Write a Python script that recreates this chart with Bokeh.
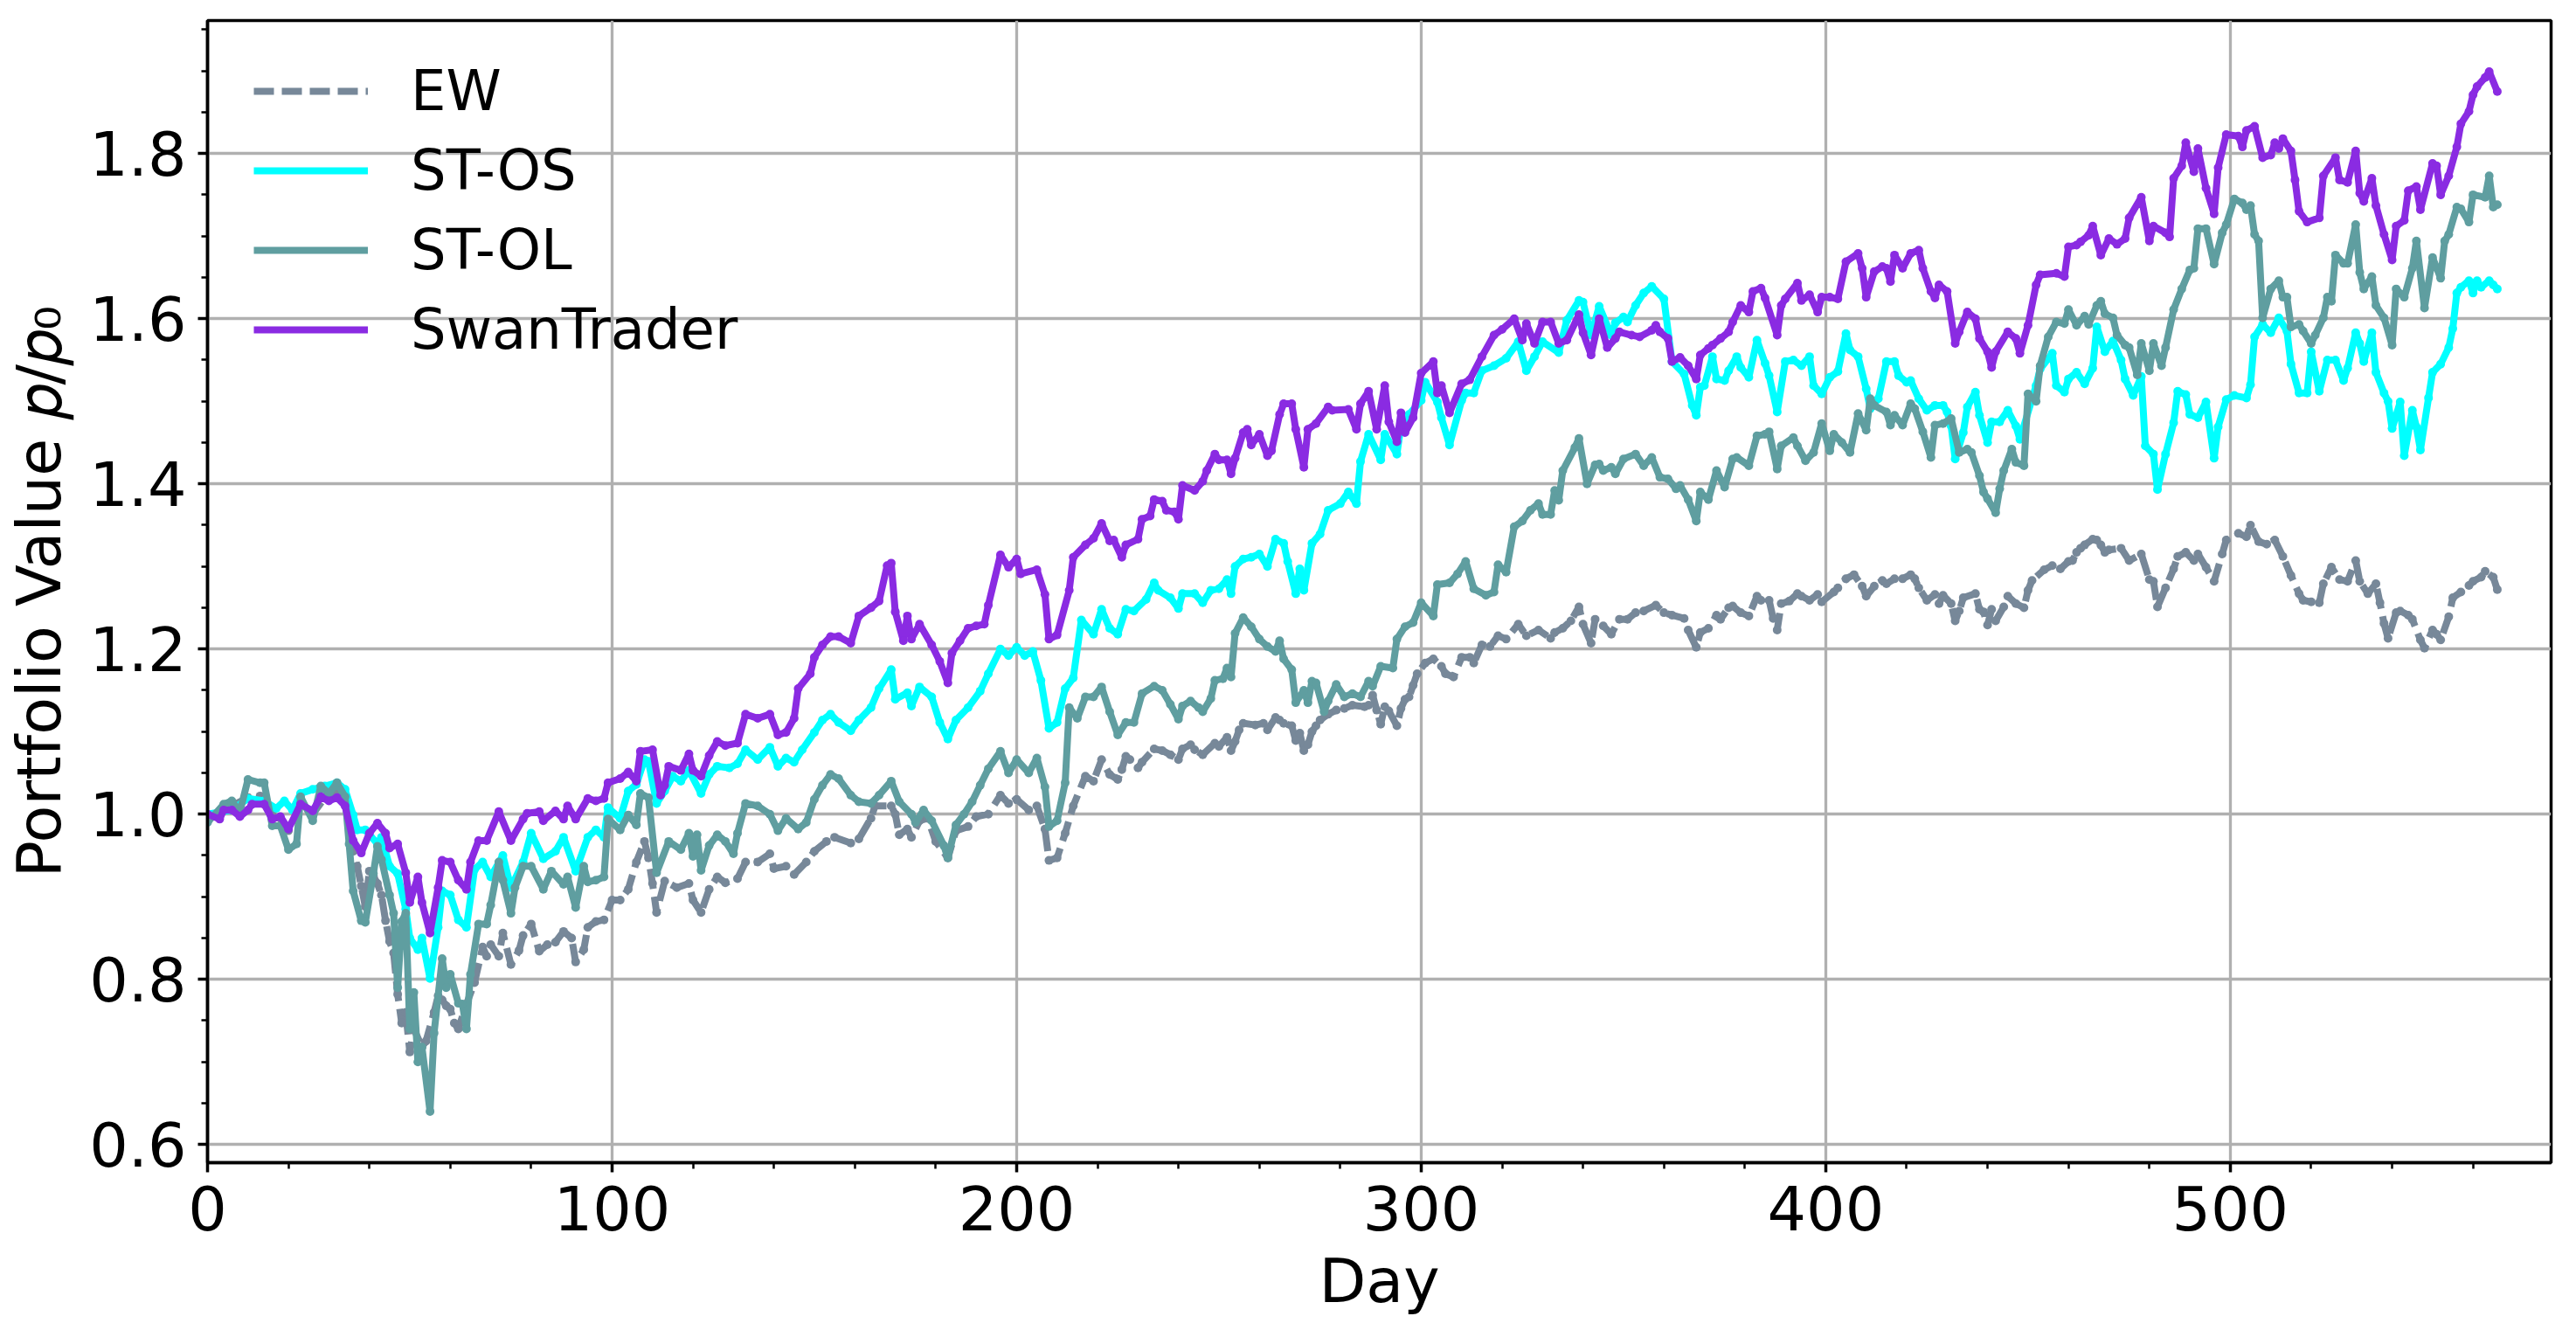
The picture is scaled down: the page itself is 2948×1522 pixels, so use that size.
from bokeh.plotting import figure
from bokeh.models import Range1d, FixedTicker, Legend, LegendItem, PrintfTickFormatter
from bokeh.embed import file_html
from bokeh.resources import INLINE

# ---------------- data ----------------
swan_day = [0, 3, 4, 6, 8, 10, 11, 14, 16, 18, 20, 23, 26, 28, 30, 32, 34, 36, 38, 40, 42, 44, 45, 47, 49, 50, 52, 53, 55, 57, 58, 60, 62, 64, 65, 67, 69, 72, 75, 78, 79, 82, 83, 86, 88, 89, 91, 94, 96, 98, 99, 102, 104, 106, 107, 110, 112, 113, 114, 117, 119, 120, 122, 124, 126, 128, 131, 133, 136, 139, 141, 143, 145, 146, 149, 150, 152, 154, 156, 159, 161, 164, 166, 168, 169, 170, 172, 173, 174, 176, 179, 181, 183, 184, 186, 188, 190, 192, 193, 196, 198, 200, 201, 205, 207, 208, 210, 213, 214, 217, 219, 221, 223, 224, 226, 227, 230, 231, 233, 234, 236, 237, 239, 240, 241, 244, 246, 247, 249, 250, 252, 253, 254, 256, 257, 258, 260, 262, 263, 265, 266, 268, 269, 271, 272, 274, 277, 278, 282, 284, 285, 287, 289, 291, 292, 294, 295, 296, 298, 300, 303, 304, 305, 307, 310, 312, 315, 318, 320, 323, 325, 326, 328, 330, 332, 334, 336, 339, 340, 342, 344, 346, 348, 349, 352, 354, 357, 358, 359, 361, 362, 364, 366, 368, 369, 371, 372, 374, 376, 377, 379, 381, 382, 384, 385, 388, 389, 390, 393, 394, 396, 398, 399, 401, 403, 405, 408, 409, 410, 412, 414, 415, 416, 417, 419, 421, 423, 424, 426, 427, 428, 430, 432, 433, 435, 437, 438, 440, 441, 442, 445, 447, 448, 450, 452, 453, 457, 459, 460, 462, 463, 465, 466, 468, 470, 472, 474, 475, 478, 480, 481, 484, 485, 486, 488, 489, 491, 492, 494, 496, 497, 499, 502, 503, 504, 506, 508, 510, 511, 512, 513, 515, 516, 517, 519, 522, 523, 526, 527, 529, 531, 532, 533, 535, 536, 538, 540, 541, 543, 544, 546, 547, 550, 551, 552, 554, 556, 557, 559, 560, 561, 563, 564, 566]
swan_val = [1.000, 0.994, 1.005, 1.005, 0.997, 1.005, 1.012, 1.012, 0.994, 0.997, 0.982, 1.012, 1.004, 1.021, 1.016, 1.020, 1.010, 0.968, 0.953, 0.977, 0.989, 0.977, 0.959, 0.964, 0.929, 0.893, 0.924, 0.893, 0.856, 0.911, 0.944, 0.942, 0.920, 0.909, 0.942, 0.968, 0.968, 1.003, 0.968, 0.994, 1.001, 1.003, 0.992, 1.004, 0.994, 1.010, 0.994, 1.019, 1.016, 1.019, 1.038, 1.043, 1.051, 1.040, 1.076, 1.078, 1.023, 1.035, 1.058, 1.053, 1.073, 1.053, 1.046, 1.071, 1.088, 1.083, 1.086, 1.121, 1.116, 1.121, 1.096, 1.099, 1.116, 1.152, 1.170, 1.190, 1.205, 1.215, 1.215, 1.207, 1.240, 1.250, 1.258, 1.301, 1.304, 1.245, 1.210, 1.240, 1.212, 1.230, 1.205, 1.185, 1.159, 1.195, 1.210, 1.225, 1.228, 1.230, 1.253, 1.314, 1.299, 1.309, 1.291, 1.296, 1.266, 1.212, 1.217, 1.271, 1.311, 1.326, 1.334, 1.352, 1.331, 1.332, 1.311, 1.326, 1.333, 1.357, 1.361, 1.381, 1.379, 1.368, 1.366, 1.357, 1.398, 1.392, 1.403, 1.416, 1.436, 1.429, 1.429, 1.412, 1.431, 1.462, 1.466, 1.447, 1.460, 1.434, 1.440, 1.484, 1.497, 1.497, 1.466, 1.420, 1.466, 1.473, 1.493, 1.489, 1.490, 1.466, 1.497, 1.512, 1.466, 1.519, 1.475, 1.451, 1.486, 1.462, 1.480, 1.534, 1.548, 1.510, 1.519, 1.486, 1.521, 1.526, 1.554, 1.580, 1.587, 1.600, 1.574, 1.594, 1.570, 1.596, 1.596, 1.570, 1.574, 1.605, 1.583, 1.556, 1.600, 1.565, 1.576, 1.584, 1.580, 1.578, 1.586, 1.592, 1.584, 1.576, 1.548, 1.553, 1.543, 1.527, 1.556, 1.564, 1.568, 1.576, 1.584, 1.596, 1.616, 1.608, 1.633, 1.637, 1.625, 1.580, 1.616, 1.624, 1.643, 1.622, 1.629, 1.608, 1.626, 1.626, 1.624, 1.669, 1.679, 1.661, 1.626, 1.657, 1.663, 1.661, 1.645, 1.677, 1.661, 1.679, 1.683, 1.661, 1.633, 1.625, 1.641, 1.633, 1.570, 1.584, 1.608, 1.600, 1.576, 1.560, 1.541, 1.560, 1.584, 1.576, 1.558, 1.592, 1.641, 1.653, 1.655, 1.651, 1.687, 1.689, 1.693, 1.701, 1.712, 1.677, 1.697, 1.690, 1.697, 1.722, 1.747, 1.694, 1.712, 1.704, 1.699, 1.770, 1.785, 1.813, 1.778, 1.806, 1.758, 1.727, 1.783, 1.823, 1.821, 1.808, 1.828, 1.833, 1.795, 1.798, 1.813, 1.806, 1.818, 1.803, 1.768, 1.730, 1.717, 1.722, 1.773, 1.795, 1.768, 1.765, 1.803, 1.752, 1.742, 1.770, 1.737, 1.702, 1.671, 1.712, 1.719, 1.755, 1.760, 1.732, 1.788, 1.785, 1.750, 1.773, 1.808, 1.836, 1.851, 1.871, 1.881, 1.892, 1.899, 1.875]

stos_day = [0, 6, 10, 14, 17, 19, 21, 23, 26, 29, 32, 34, 36, 37, 39, 42, 43, 45, 47, 49, 50, 52, 53, 55, 57, 58, 60, 62, 64, 66, 68, 70, 73, 75, 78, 80, 83, 86, 88, 91, 94, 96, 98, 99, 102, 104, 106, 108, 109, 111, 113, 115, 117, 119, 122, 124, 126, 129, 131, 133, 136, 139, 141, 143, 145, 147, 150, 152, 154, 156, 159, 161, 164, 166, 169, 170, 173, 174, 176, 179, 181, 183, 185, 188, 191, 193, 196, 198, 200, 202, 204, 206, 208, 210, 212, 214, 216, 219, 221, 223, 225, 227, 229, 232, 234, 235, 238, 240, 241, 244, 246, 248, 250, 252, 253, 254, 256, 258, 260, 262, 264, 266, 267, 269, 270, 271, 273, 275, 277, 280, 282, 284, 285, 287, 290, 291, 294, 295, 297, 300, 301, 304, 305, 307, 310, 311, 313, 315, 318, 321, 324, 326, 328, 330, 334, 336, 339, 340, 342, 344, 347, 348, 350, 351, 353, 355, 357, 360, 362, 365, 367, 368, 369, 370, 372, 373, 375, 376, 378, 379, 381, 383, 385, 386, 388, 390, 392, 394, 396, 397, 399, 401, 403, 405, 406, 408, 410, 411, 413, 415, 417, 418, 420, 421, 423, 425, 427, 429, 430, 431, 432, 434, 435, 437, 438, 440, 441, 443, 445, 447, 448, 452, 453, 456, 457, 459, 460, 462, 464, 466, 467, 469, 471, 473, 474, 476, 478, 479, 481, 482, 484, 486, 487, 489, 490, 492, 494, 496, 497, 499, 501, 504, 505, 506, 508, 510, 512, 514, 515, 517, 519, 520, 522, 524, 526, 528, 529, 531, 532, 533, 535, 536, 538, 539, 540, 542, 543, 545, 546, 547, 549, 550, 552, 554, 555, 556, 557, 559, 560, 561, 562, 564, 565, 566]
stos_val = [1.000, 1.005, 1.019, 1.016, 1.007, 1.016, 1.005, 1.025, 1.030, 1.034, 1.038, 1.030, 0.999, 0.981, 0.981, 0.964, 0.972, 0.937, 0.928, 0.885, 0.850, 0.836, 0.850, 0.801, 0.863, 0.907, 0.902, 0.872, 0.863, 0.933, 0.942, 0.924, 0.950, 0.911, 0.942, 0.977, 0.946, 0.955, 0.972, 0.931, 0.972, 0.981, 0.972, 1.008, 0.995, 1.028, 1.036, 1.066, 1.064, 1.013, 1.028, 1.046, 1.040, 1.053, 1.025, 1.048, 1.058, 1.056, 1.061, 1.078, 1.066, 1.081, 1.058, 1.068, 1.063, 1.078, 1.099, 1.114, 1.121, 1.111, 1.101, 1.114, 1.129, 1.152, 1.175, 1.139, 1.147, 1.131, 1.154, 1.142, 1.111, 1.091, 1.114, 1.129, 1.149, 1.170, 1.200, 1.192, 1.202, 1.192, 1.197, 1.162, 1.104, 1.111, 1.152, 1.165, 1.235, 1.218, 1.248, 1.225, 1.218, 1.248, 1.246, 1.260, 1.280, 1.271, 1.262, 1.249, 1.267, 1.267, 1.256, 1.271, 1.273, 1.284, 1.267, 1.300, 1.309, 1.311, 1.315, 1.300, 1.333, 1.328, 1.306, 1.267, 1.297, 1.271, 1.328, 1.339, 1.368, 1.376, 1.390, 1.376, 1.427, 1.460, 1.429, 1.460, 1.436, 1.471, 1.484, 1.501, 1.523, 1.499, 1.480, 1.447, 1.501, 1.510, 1.510, 1.537, 1.543, 1.552, 1.572, 1.537, 1.554, 1.572, 1.559, 1.598, 1.622, 1.620, 1.580, 1.615, 1.580, 1.595, 1.602, 1.596, 1.616, 1.631, 1.639, 1.624, 1.548, 1.533, 1.495, 1.483, 1.517, 1.519, 1.554, 1.527, 1.525, 1.537, 1.554, 1.541, 1.529, 1.574, 1.546, 1.531, 1.487, 1.548, 1.550, 1.543, 1.554, 1.519, 1.509, 1.529, 1.536, 1.582, 1.562, 1.554, 1.515, 1.491, 1.503, 1.548, 1.548, 1.531, 1.523, 1.525, 1.503, 1.489, 1.495, 1.495, 1.487, 1.470, 1.430, 1.462, 1.493, 1.511, 1.483, 1.450, 1.475, 1.475, 1.489, 1.470, 1.454, 1.519, 1.539, 1.558, 1.519, 1.511, 1.527, 1.535, 1.521, 1.540, 1.590, 1.560, 1.573, 1.550, 1.527, 1.507, 1.530, 1.446, 1.436, 1.393, 1.436, 1.474, 1.512, 1.508, 1.484, 1.480, 1.499, 1.431, 1.469, 1.502, 1.507, 1.504, 1.520, 1.578, 1.593, 1.583, 1.601, 1.585, 1.545, 1.510, 1.510, 1.560, 1.512, 1.550, 1.550, 1.525, 1.540, 1.583, 1.570, 1.548, 1.583, 1.535, 1.510, 1.500, 1.467, 1.499, 1.434, 1.489, 1.469, 1.441, 1.504, 1.535, 1.545, 1.565, 1.588, 1.631, 1.638, 1.646, 1.631, 1.646, 1.638, 1.646, 1.641, 1.636]

stol_day = [0, 4, 6, 8, 10, 13, 14, 16, 18, 20, 22, 23, 26, 28, 30, 32, 34, 35, 36, 38, 39, 41, 42, 43, 45, 46, 47, 48, 49, 50, 51, 52, 53, 55, 56, 58, 59, 60, 62, 63, 64, 65, 67, 69, 70, 72, 73, 75, 76, 78, 80, 83, 85, 88, 89, 91, 93, 94, 96, 98, 99, 102, 104, 106, 107, 109, 111, 114, 117, 119, 120, 121, 122, 124, 126, 128, 130, 131, 133, 136, 139, 141, 143, 146, 148, 150, 152, 154, 156, 159, 161, 164, 166, 169, 171, 174, 175, 177, 179, 182, 183, 185, 187, 189, 191, 193, 196, 198, 200, 203, 205, 207, 208, 210, 212, 213, 215, 217, 219, 221, 223, 225, 227, 229, 231, 234, 236, 238, 240, 241, 243, 245, 246, 248, 249, 251, 252, 253, 254, 256, 258, 260, 262, 264, 265, 266, 268, 269, 271, 272, 273, 274, 276, 277, 279, 281, 283, 285, 287, 288, 290, 293, 294, 296, 298, 300, 303, 304, 307, 309, 311, 313, 316, 318, 319, 321, 323, 325, 327, 329, 330, 332, 333, 334, 335, 338, 339, 341, 343, 344, 345, 347, 348, 350, 353, 355, 357, 359, 361, 363, 364, 366, 368, 369, 371, 373, 375, 377, 378, 381, 383, 385, 386, 388, 389, 392, 393, 395, 397, 399, 401, 402, 404, 406, 408, 410, 411, 412, 415, 416, 417, 419, 421, 422, 424, 426, 427, 429, 431, 433, 435, 436, 438, 439, 440, 442, 443, 444, 446, 447, 449, 450, 452, 453, 455, 457, 459, 460, 462, 464, 465, 467, 468, 469, 471, 472, 474, 475, 477, 478, 480, 481, 483, 484, 486, 488, 490, 491, 492, 494, 496, 498, 499, 501, 503, 504, 505, 506, 507, 508, 510, 512, 513, 514, 515, 517, 518, 520, 521, 523, 524, 525, 526, 528, 529, 531, 532, 533, 535, 536, 538, 540, 541, 543, 545, 546, 548, 550, 552, 553, 554, 556, 557, 559, 560, 563, 564, 565, 566]
stol_val = [0.990, 1.012, 1.016, 1.003, 1.042, 1.038, 1.038, 0.986, 0.986, 0.957, 0.964, 1.021, 0.992, 1.034, 1.025, 1.038, 1.021, 0.964, 0.907, 0.871, 0.869, 0.928, 0.961, 0.945, 0.902, 0.880, 0.790, 0.870, 0.880, 0.740, 0.784, 0.700, 0.718, 0.640, 0.735, 0.825, 0.790, 0.806, 0.771, 0.770, 0.740, 0.806, 0.867, 0.867, 0.890, 0.942, 0.920, 0.880, 0.911, 0.937, 0.937, 0.909, 0.931, 0.915, 0.924, 0.887, 0.937, 0.918, 0.920, 0.924, 0.994, 0.981, 0.999, 0.987, 1.025, 1.020, 0.929, 0.967, 0.957, 0.977, 0.949, 0.975, 0.932, 0.962, 0.975, 0.967, 0.952, 0.977, 1.013, 1.010, 1.000, 0.980, 0.995, 0.982, 0.990, 1.018, 1.035, 1.048, 1.043, 1.023, 1.015, 1.013, 1.023, 1.040, 1.015, 1.000, 0.990, 1.005, 0.992, 0.962, 0.947, 0.987, 1.000, 1.015, 1.035, 1.055, 1.076, 1.050, 1.066, 1.050, 1.068, 1.033, 0.985, 0.992, 1.038, 1.129, 1.116, 1.142, 1.142, 1.154, 1.124, 1.096, 1.111, 1.111, 1.146, 1.155, 1.150, 1.133, 1.115, 1.131, 1.137, 1.129, 1.124, 1.140, 1.162, 1.164, 1.177, 1.166, 1.219, 1.238, 1.227, 1.212, 1.203, 1.197, 1.210, 1.188, 1.175, 1.135, 1.150, 1.135, 1.161, 1.159, 1.124, 1.137, 1.157, 1.142, 1.146, 1.142, 1.161, 1.155, 1.179, 1.177, 1.212, 1.227, 1.232, 1.256, 1.240, 1.278, 1.280, 1.291, 1.306, 1.273, 1.265, 1.269, 1.302, 1.293, 1.348, 1.355, 1.368, 1.376, 1.363, 1.363, 1.392, 1.380, 1.416, 1.444, 1.455, 1.400, 1.423, 1.424, 1.416, 1.420, 1.412, 1.430, 1.436, 1.422, 1.432, 1.408, 1.406, 1.394, 1.398, 1.381, 1.355, 1.390, 1.381, 1.416, 1.396, 1.430, 1.432, 1.422, 1.458, 1.460, 1.463, 1.418, 1.446, 1.456, 1.446, 1.428, 1.438, 1.473, 1.440, 1.460, 1.450, 1.438, 1.485, 1.465, 1.503, 1.495, 1.487, 1.471, 1.483, 1.471, 1.497, 1.491, 1.463, 1.432, 1.471, 1.473, 1.479, 1.438, 1.442, 1.438, 1.410, 1.390, 1.382, 1.365, 1.394, 1.416, 1.442, 1.426, 1.422, 1.509, 1.500, 1.543, 1.578, 1.596, 1.594, 1.611, 1.592, 1.603, 1.593, 1.616, 1.621, 1.606, 1.601, 1.580, 1.568, 1.565, 1.532, 1.570, 1.537, 1.570, 1.543, 1.565, 1.611, 1.636, 1.659, 1.661, 1.709, 1.709, 1.666, 1.704, 1.714, 1.745, 1.740, 1.732, 1.737, 1.702, 1.694, 1.601, 1.636, 1.646, 1.626, 1.626, 1.590, 1.593, 1.585, 1.570, 1.580, 1.601, 1.626, 1.621, 1.677, 1.667, 1.667, 1.714, 1.656, 1.636, 1.651, 1.616, 1.601, 1.568, 1.636, 1.626, 1.661, 1.694, 1.613, 1.674, 1.649, 1.694, 1.702, 1.735, 1.733, 1.717, 1.750, 1.747, 1.773, 1.735, 1.738]

ew_day = [0, 3, 6, 10, 13, 16, 18, 20, 23, 26, 29, 32, 34, 36, 37, 38, 39, 40, 41, 42, 43, 44, 45, 46, 47, 48, 49, 50, 51, 53, 54, 56, 57, 58, 59, 60, 61, 62, 64, 66, 68, 69, 70, 72, 73, 75, 77, 78, 80, 82, 84, 86, 88, 90, 91, 93, 94, 96, 98, 100, 102, 104, 106, 108, 109, 110, 111, 113, 116, 119, 120, 122, 124, 126, 128, 131, 133, 136, 139, 140, 143, 145, 148, 150, 153, 155, 159, 161, 164, 165, 169, 170, 171, 173, 174, 176, 178, 180, 183, 185, 188, 190, 193, 196, 198, 200, 203, 205, 207, 208, 210, 212, 214, 217, 219, 221, 223, 225, 226, 227, 228, 230, 231, 234, 236, 238, 240, 241, 243, 244, 246, 249, 250, 252, 253, 254, 255, 256, 259, 261, 262, 264, 265, 266, 268, 269, 270, 271, 272, 273, 274, 275, 277, 279, 281, 283, 286, 287, 288, 289, 290, 291, 292, 294, 295, 296, 297, 298, 299, 301, 303, 305, 306, 308, 310, 312, 313, 315, 317, 319, 321, 324, 326, 329, 332, 333, 335, 337, 339, 340, 342, 343, 345, 347, 349, 351, 353, 355, 358, 360, 362, 365, 366, 368, 369, 371, 373, 374, 376, 377, 379, 381, 383, 384, 386, 387, 388, 389, 391, 393, 394, 396, 398, 399, 402, 403, 405, 407, 409, 410, 412, 414, 415, 417, 419, 421, 422, 423, 425, 427, 428, 429, 431, 432, 433, 434, 437, 438, 439, 440, 441, 442, 444, 445, 447, 449, 450, 451, 454, 456, 458, 460, 461, 462, 463, 464, 466, 467, 468, 469, 470, 473, 475, 478, 480, 481, 482, 484, 486, 487, 489, 491, 492, 494, 496, 498, 499, 502, 504, 505, 507, 509, 511, 513, 515, 517, 518, 520, 522, 523, 525, 527, 529, 531, 532, 534, 536, 537, 538, 539, 541, 542, 544, 545, 547, 548, 550, 551, 552, 554, 555, 557, 559, 560, 562, 563, 565, 566]
ew_val = [1.000, 1.000, 1.010, 1.020, 1.022, 1.000, 0.995, 0.980, 1.010, 1.000, 1.020, 1.025, 1.015, 0.955, 0.937, 0.913, 0.888, 0.931, 0.925, 0.916, 0.902, 0.871, 0.846, 0.832, 0.782, 0.747, 0.760, 0.712, 0.740, 0.718, 0.725, 0.760, 0.780, 0.775, 0.768, 0.764, 0.747, 0.740, 0.770, 0.796, 0.839, 0.828, 0.842, 0.828, 0.856, 0.818, 0.835, 0.853, 0.867, 0.834, 0.842, 0.845, 0.858, 0.850, 0.821, 0.836, 0.863, 0.870, 0.872, 0.896, 0.896, 0.909, 0.942, 0.967, 0.947, 0.916, 0.881, 0.919, 0.911, 0.916, 0.896, 0.881, 0.909, 0.924, 0.917, 0.922, 0.942, 0.942, 0.952, 0.934, 0.937, 0.927, 0.942, 0.955, 0.967, 0.972, 0.965, 0.970, 0.995, 1.010, 1.010, 1.000, 0.975, 0.982, 0.972, 0.992, 0.995, 0.967, 0.947, 0.980, 0.985, 0.997, 1.000, 1.023, 1.013, 1.018, 1.005, 1.010, 0.982, 0.944, 0.947, 0.977, 1.010, 1.046, 1.040, 1.066, 1.048, 1.042, 1.054, 1.070, 1.066, 1.056, 1.063, 1.079, 1.077, 1.072, 1.066, 1.079, 1.084, 1.078, 1.072, 1.086, 1.082, 1.093, 1.077, 1.088, 1.102, 1.110, 1.108, 1.110, 1.102, 1.117, 1.114, 1.110, 1.107, 1.089, 1.098, 1.077, 1.084, 1.100, 1.107, 1.114, 1.121, 1.126, 1.128, 1.132, 1.130, 1.132, 1.144, 1.126, 1.109, 1.130, 1.125, 1.107, 1.128, 1.139, 1.142, 1.156, 1.170, 1.183, 1.188, 1.179, 1.170, 1.166, 1.190, 1.190, 1.183, 1.205, 1.203, 1.216, 1.212, 1.230, 1.216, 1.223, 1.213, 1.220, 1.225, 1.234, 1.251, 1.230, 1.207, 1.236, 1.228, 1.218, 1.236, 1.236, 1.244, 1.246, 1.253, 1.244, 1.241, 1.237, 1.223, 1.202, 1.220, 1.225, 1.241, 1.236, 1.250, 1.252, 1.244, 1.240, 1.264, 1.259, 1.259, 1.237, 1.223, 1.255, 1.258, 1.267, 1.264, 1.259, 1.266, 1.257, 1.269, 1.274, 1.285, 1.290, 1.276, 1.264, 1.276, 1.283, 1.279, 1.285, 1.285, 1.290, 1.285, 1.274, 1.259, 1.266, 1.255, 1.265, 1.255, 1.234, 1.246, 1.262, 1.267, 1.248, 1.245, 1.229, 1.248, 1.234, 1.251, 1.264, 1.255, 1.250, 1.271, 1.283, 1.296, 1.301, 1.297, 1.306, 1.307, 1.317, 1.322, 1.326, 1.333, 1.332, 1.326, 1.317, 1.320, 1.322, 1.307, 1.315, 1.284, 1.282, 1.251, 1.274, 1.297, 1.312, 1.317, 1.307, 1.315, 1.299, 1.282, 1.315, 1.332, 1.340, 1.336, 1.350, 1.330, 1.327, 1.332, 1.312, 1.289, 1.267, 1.259, 1.257, 1.256, 1.279, 1.299, 1.284, 1.282, 1.307, 1.282, 1.267, 1.279, 1.256, 1.231, 1.213, 1.244, 1.246, 1.241, 1.236, 1.211, 1.201, 1.223, 1.218, 1.211, 1.239, 1.262, 1.269, 1.277, 1.282, 1.287, 1.294, 1.287, 1.272]

x_ticks = [0, 100, 200, 300, 400, 500]
x_minor = [20, 40, 60, 80, 120, 140, 160, 180, 220, 240, 260, 280, 320, 340, 360, 380, 420, 440, 460, 480, 520, 540, 560]
y_ticks = [0.6, 0.8, 1.0, 1.2, 1.4, 1.6, 1.8]
y_minor = [0.65, 0.7, 0.75, 0.85, 0.9, 0.95, 1.05, 1.1, 1.15, 1.25, 1.3, 1.35, 1.45, 1.5, 1.55, 1.65, 1.7, 1.75, 1.85, 1.9, 1.95]

series = [
    ("EW", ew_day, ew_val, "#778899", "23 9"),
    ("ST-OS", stos_day, stos_val, "#00FFFF", "solid"),
    ("ST-OL", stol_day, stol_val, "#5F9EA0", "solid"),
    ("SwanTrader", swan_day, swan_val, "#8A2BE2", "solid"),
]

FONT = "DejaVu Sans"

p = figure(width=2940, height=1518, output_backend="svg", toolbar_location=None,
           x_range=Range1d(0, 579.3), y_range=Range1d(0.578, 1.961),
           min_border_left=237, min_border_right=21, min_border_top=23, min_border_bottom=188)
p.background_fill_color = "white"
p.border_fill_color = "white"
p.outline_line_color = "black"
p.outline_line_width = 3.5
p.outline_line_alpha = 1.0

p.xaxis.ticker = FixedTicker(ticks=x_ticks, minor_ticks=x_minor)
p.yaxis.ticker = FixedTicker(ticks=y_ticks, minor_ticks=y_minor)
p.yaxis.formatter = PrintfTickFormatter(format="%.1f")
p.xaxis.axis_label = "Day"
p.yaxis.axis_label = "Portfolio Value \U0001D45D/\U0001D45D\u2080"
for ax in (p.xaxis, p.yaxis):
    ax.axis_label_text_font = FONT
    ax.axis_label_text_font_size = "70px"
    ax.axis_label_text_font_style = "normal"
    ax.axis_label_text_color = "black"
    ax.major_label_text_font = FONT
    ax.major_label_text_font_size = "70px"
    ax.major_label_text_color = "black"
    ax.axis_line_width = 3.5
    ax.axis_line_color = "black"
    ax.major_tick_line_width = 3.5
    ax.minor_tick_line_width = 2.5
    ax.major_tick_line_color = "black"
    ax.minor_tick_line_color = "black"
    ax.major_tick_out = 11
    ax.major_tick_in = 0
    ax.minor_tick_out = 7
    ax.minor_tick_in = 0
p.xaxis.major_label_standoff = 15
p.xaxis.axis_label_standoff = 14
p.yaxis.major_label_standoff = 13
p.yaxis.axis_label_standoff = 13

for g in (p.xgrid, p.ygrid):
    g.grid_line_color = "#b0b0b0"
    g.grid_line_width = 3.3
    g.grid_line_alpha = 1.0

items = []
for name, d, v, col, dash in series:
    r = p.line(d, v, line_color=col, line_width=8, line_dash=dash, line_join="round")
    p.scatter(d, v, size=10, fill_color=col, line_color=col, line_width=0)
    items.append(LegendItem(label=name, renderers=[r]))

legend = Legend(items=items, location=(53, 913))
legend.border_line_alpha = 0
legend.background_fill_alpha = 0
legend.label_text_font = FONT
legend.label_text_font_size = "64px"
legend.label_text_color = "black"
legend.glyph_width = 131
legend.glyph_height = 80
legend.label_height = 80
legend.label_standoff = 49
legend.spacing = 11
legend.padding = 0
legend.margin = 0
p.add_layout(legend)

open("out.html", "w").write(file_html(p, INLINE))
